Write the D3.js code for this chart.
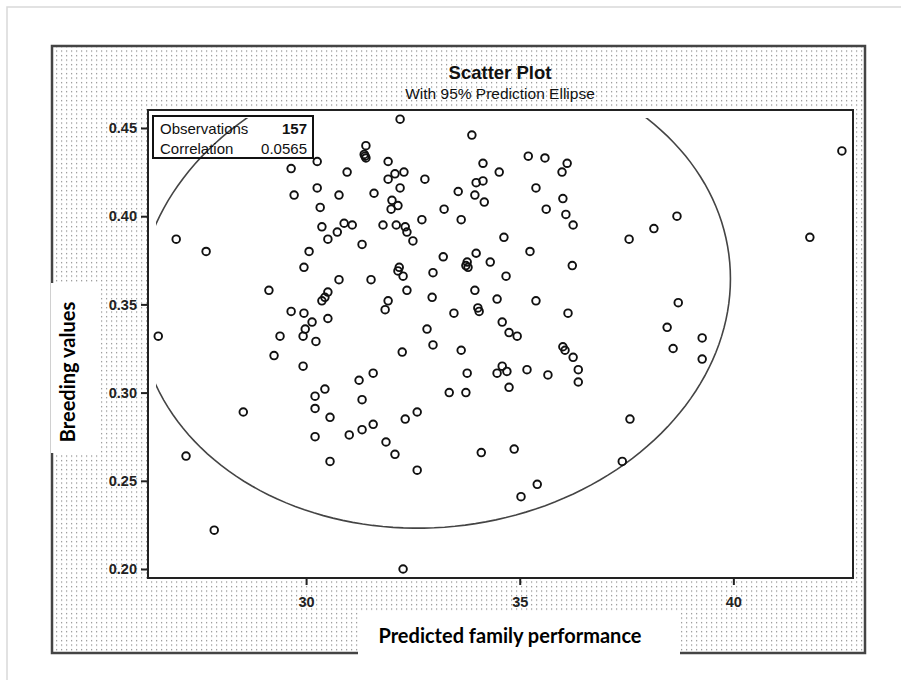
<!DOCTYPE html>
<html>
<head>
<meta charset="utf-8">
<script src="https://cdn.jsdelivr.net/npm/d3@7"></script>
<style>
  body { margin: 0; background: #fff; }
</style>
</head>
<body>
<div id="chart"></div>
<script>
// predicted family performance (x) and breeding value (y), one per family
var familyPerformance = [
  32.20, 33.88, 31.40, 31.36, 31.40, 30.26, 29.65, 31.92, 30.96, 31.92,
  32.08, 32.29, 32.78, 33.56, 30.26, 29.72, 30.77, 31.59, 32.20, 30.33,
  32.01, 32.15, 31.99, 33.23, 33.63, 32.71, 30.37, 30.73, 30.89, 31.08,
  30.51, 31.80, 32.11, 32.32, 32.36, 32.50, 31.31, 26.96, 27.66, 30.07,
  29.95, 33.21, 33.77, 33.79, 30.77, 31.52, 32.15, 32.27, 32.97, 32.36,
  32.95, 29.13, 30.51, 30.37, 31.92, 31.85, 29.65, 29.95, 30.14, 30.51,
  33.46, 32.83, 26.54, 29.98, 29.39, 29.93, 35.20, 35.59, 36.11, 35.99,
  34.14, 34.52, 34.14, 33.98, 33.95, 34.17, 35.38, 36.01, 35.62, 36.08,
  36.25, 33.98, 34.31, 34.63, 35.24, 36.23, 34.68, 33.95, 34.47, 35.38,
  36.13, 34.05, 34.59, 34.75, 34.94, 42.54, 38.68, 38.14, 37.56, 41.79,
  38.71, 38.45, 39.27, 38.59, 39.27, 36.01, 36.25, 36.37, 36.37, 37.58,
  37.40, 30.23, 29.93, 32.25, 32.97, 33.63, 31.57, 31.24, 30.44, 30.21,
  30.21, 31.31, 30.56, 30.21, 31.01, 31.31, 31.57, 32.32, 32.60, 31.87,
  32.08, 32.60, 30.56, 33.77, 33.35, 33.74, 34.59, 34.47, 34.70, 35.17,
  35.66, 34.75, 34.10, 34.87, 35.41, 35.03, 32.27, 29.25, 28.53, 27.19,
  27.85, 36.06, 34.02, 30.44, 32.18, 33.74, 31.38
];
var breedingValues = [
  0.455, 0.446, 0.440, 0.435, 0.433, 0.431, 0.427, 0.431, 0.425, 0.421,
  0.424, 0.425, 0.421, 0.414, 0.416, 0.412, 0.412, 0.413, 0.416, 0.405,
  0.409, 0.406, 0.404, 0.404, 0.398, 0.398, 0.394, 0.391, 0.396, 0.395,
  0.387, 0.395, 0.395, 0.394, 0.391, 0.386, 0.384, 0.387, 0.380, 0.380,
  0.371, 0.377, 0.374, 0.371, 0.364, 0.364, 0.369, 0.366, 0.368, 0.358,
  0.354, 0.358, 0.357, 0.352, 0.352, 0.347, 0.346, 0.345, 0.340, 0.342,
  0.345, 0.336, 0.332, 0.336, 0.332, 0.332, 0.434, 0.433, 0.430, 0.425,
  0.430, 0.425, 0.420, 0.419, 0.412, 0.408, 0.416, 0.410, 0.404, 0.401,
  0.395, 0.379, 0.374, 0.388, 0.380, 0.372, 0.366, 0.358, 0.353, 0.352,
  0.345, 0.346, 0.340, 0.334, 0.332, 0.437, 0.400, 0.393, 0.387, 0.388,
  0.351, 0.337, 0.331, 0.325, 0.319, 0.326, 0.320, 0.313, 0.306, 0.285,
  0.261, 0.329, 0.315, 0.323, 0.327, 0.324, 0.311, 0.307, 0.302, 0.298,
  0.291, 0.296, 0.286, 0.275, 0.276, 0.279, 0.282, 0.285, 0.289, 0.272,
  0.265, 0.256, 0.261, 0.311, 0.300, 0.300, 0.315, 0.311, 0.312, 0.313,
  0.310, 0.303, 0.266, 0.268, 0.248, 0.241, 0.200, 0.321, 0.289, 0.264,
  0.222, 0.324, 0.348, 0.354, 0.371, 0.372, 0.434
];

var xTicks = [30, 35, 40];
var yTicks = [0.20, 0.25, 0.30, 0.35, 0.40, 0.45];
var legendLabels = ["Observations", "Correlation"];
var legendValues = ["157", "0.0565"];

// 95% prediction ellipse (bivariate normal summary)
var ellipseMeanX = 33.0;
var ellipseMeanY = 0.357;
var ellipseSdX = 2.786;
var ellipseSdY = 0.0538;
var ellipseCorr = 0.0565;
var ellipseScale = 2.488;

var width = 901, height = 680;
var plot = { left: 148, top: 110, right: 853, bottom: 578 };

var svg = d3
  .select("#chart")
  .append("svg")
  .attr("width", width)
  .attr("height", height);

var defs = svg.append("defs");
var pat = defs
  .append("pattern")
  .attr("id", "dots")
  .attr("patternUnits", "userSpaceOnUse")
  .attr("width", 5)
  .attr("height", 4.5);
pat.append("rect").attr("width", 5).attr("height", 4.5).attr("fill", "#fff");
pat.append("rect").attr("x", 1).attr("y", 1).attr("width", 1.2).attr("height", 1.2).attr("fill", "#8a8a8a");

// the ellipse is cut a little inside the frame, as in the original
defs
  .append("clipPath")
  .attr("id", "plotClip")
  .append("rect")
  .attr("x", plot.left + 8)
  .attr("y", plot.top + 8)
  .attr("width", plot.right - plot.left - 16)
  .attr("height", plot.bottom - plot.top - 16);

// page frame
svg
  .append("rect")
  .attr("x", 7)
  .attr("y", 7)
  .attr("width", 1000)
  .attr("height", 1000)
  .attr("fill", "none")
  .attr("stroke", "#d9d9d9")
  .attr("stroke-width", 1.5);

// outer dotted panel
svg
  .append("rect")
  .attr("x", 52)
  .attr("y", 46)
  .attr("width", 813)
  .attr("height", 607)
  .attr("fill", "url(#dots)")
  .attr("stroke", "#444")
  .attr("stroke-width", 2.5);

// plot area
svg
  .append("rect")
  .attr("x", plot.left)
  .attr("y", plot.top)
  .attr("width", plot.right - plot.left)
  .attr("height", plot.bottom - plot.top)
  .attr("fill", "#fff")
  .attr("stroke", "#222")
  .attr("stroke-width", 2);

var x = d3.scaleLinear().domain([26.3, 42.8]).range([plot.left, plot.right]);
var y = d3.scaleLinear().domain([0.1949, 0.4602]).range([plot.bottom, plot.top]);

var xAxis = svg
  .append("g")
  .attr("transform", "translate(0," + plot.bottom + ")")
  .call(d3.axisBottom(x).tickValues(xTicks).tickSize(7).tickPadding(12));
var yAxis = svg
  .append("g")
  .attr("transform", "translate(" + plot.left + ",0)")
  .call(
    d3.axisLeft(y)
      .tickValues(yTicks)
      .tickSize(7)
      .tickPadding(4)
      .tickFormat(d3.format(".2f"))
  );

[xAxis, yAxis].forEach(function(g) {
  g.select(".domain").remove();
  g.selectAll("line").attr("stroke", "#222").attr("stroke-width", 2);
  g.selectAll("text")
    .attr("fill", "#222")
    .attr("font-family", "Liberation Sans, Arial, sans-serif")
    .attr("font-weight", "bold")
    .attr("font-size", 14.5);
});

// ellipse
var ellipsePts = d3.range(0, 361, 2).map(function(deg) {
  var t = (deg * Math.PI) / 180;
  var ex = ellipseMeanX + ellipseScale * ellipseSdX * Math.cos(t);
  var ey =
    ellipseMeanY +
    ellipseScale *
      ellipseSdY *
      (ellipseCorr * Math.cos(t) + Math.sqrt(1 - ellipseCorr * ellipseCorr) * Math.sin(t));
  return [x(ex), y(ey)];
});

svg
  .append("path")
  .attr("clip-path", "url(#plotClip)")
  .attr("d", d3.line().curve(d3.curveLinearClosed)(ellipsePts))
  .attr("fill", "none")
  .attr("stroke", "#444")
  .attr("stroke-width", 1.6);

// points
svg
  .append("g")
  .selectAll("circle")
  .data(familyPerformance)
  .enter()
  .append("circle")
  .attr("cx", function(d) {
    return x(d);
  })
  .attr("cy", function(d, i) {
    return y(breedingValues[i]);
  })
  .attr("r", 3.8)
  .attr("fill", "none")
  .attr("stroke", "#111")
  .attr("stroke-width", 1.9);

// legend box
var legend = svg.append("g");
legend
  .append("rect")
  .attr("x", 153)
  .attr("y", 116)
  .attr("width", 160)
  .attr("height", 42)
  .attr("fill", "none")
  .attr("stroke", "#111")
  .attr("stroke-width", 2);
legendLabels.forEach(function(lbl, i) {
  legend
    .append("text")
    .attr("x", 160)
    .attr("y", 134 + i * 20)
    .attr("font-family", "Liberation Sans, Arial, sans-serif")
    .attr("font-size", 15)
    .attr("fill", "#111")
    .text(lbl);
  legend
    .append("text")
    .attr("x", 307)
    .attr("y", 134 + i * 20)
    .attr("text-anchor", "end")
    .attr("font-family", "Liberation Sans, Arial, sans-serif")
    .attr("font-size", 15)
    .attr("font-weight", i === 0 ? "bold" : "normal")
    .attr("fill", "#111")
    .text(legendValues[i]);
});

// titles
svg
  .append("text")
  .attr("x", 500)
  .attr("y", 79)
  .attr("text-anchor", "middle")
  .attr("font-family", "Liberation Sans, Arial, sans-serif")
  .attr("font-weight", "bold")
  .attr("font-size", 18.5)
  .attr("fill", "#111")
  .text("Scatter Plot");
svg
  .append("text")
  .attr("x", 500)
  .attr("y", 99)
  .attr("text-anchor", "middle")
  .attr("font-family", "Liberation Sans, Arial, sans-serif")
  .attr("font-size", 15.5)
  .attr("fill", "#111")
  .text("With 95% Prediction Ellipse");

// axis titles on white patches
svg
  .append("rect")
  .attr("x", 51)
  .attr("y", 283)
  .attr("width", 49)
  .attr("height", 170)
  .attr("fill", "#fff");
svg
  .append("text")
  .attr("transform", "translate(75,372) rotate(-90)")
  .attr("text-anchor", "middle")
  .attr("font-family", "Lato, sans-serif")
  .attr("font-weight", "bold")
  .attr("font-size", 20)
  .attr("fill", "#000")
  .text("Breeding values");

svg
  .append("rect")
  .attr("x", 358)
  .attr("y", 611)
  .attr("width", 322)
  .attr("height", 46)
  .attr("fill", "#fff");
svg
  .append("text")
  .attr("x", 510)
  .attr("y", 643)
  .attr("text-anchor", "middle")
  .attr("font-family", "Lato, sans-serif")
  .attr("font-weight", "bold")
  .attr("font-size", 20)
  .attr("fill", "#000")
  .text("Predicted family performance");
</script>
</body>
</html>
